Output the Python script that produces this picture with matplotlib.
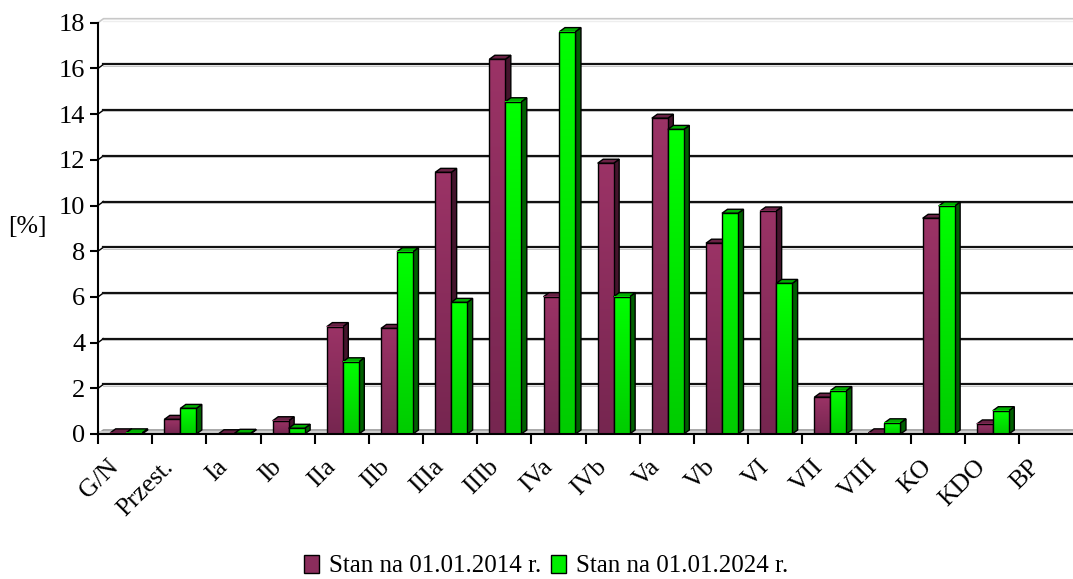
import numpy as np
import matplotlib
matplotlib.use("Agg")
import matplotlib.pyplot as plt
from matplotlib.patches import Polygon, Rectangle, Patch
from matplotlib.colors import LinearSegmentedColormap

plt.rcParams['font.family'] = ['Liberation Serif', 'DejaVu Serif']

categories = ["G/N", "Przest.", "Ia", "Ib", "IIa", "IIb", "IIIa", "IIIb", "IVa",
              "IVb", "Va", "Vb", "VI", "VII", "VIII", "KO", "KDO", "BP"]
stan_2014 = [0.05, 0.64, 0.01, 0.58, 4.70, 4.62, 11.45, 16.40, 6.01,
             11.85, 13.82, 8.35, 9.76, 1.61, 0.05, 9.44, 0.44, 0.0]
stan_2024 = [0.05, 1.12, 0.03, 0.25, 3.16, 7.98, 5.76, 14.54, 17.61,
             6.01, 13.33, 9.66, 6.59, 1.90, 0.49, 9.98, 1.02, 0.0]
labels = ["Stan na 01.01.2014 r.", "Stan na 01.01.2024 r."]
yticks = list(range(0, 19, 2))

# colours: front gradient (bottom, top), top face, side face
styles = [
    dict(front=("#762650", "#9b3366"), top="#6a2245", side="#44142c", legend="#8b2d5c"),
    dict(front=("#00cc00", "#00ff00"), top="#00b000", side="#006000", legend="#00ee00"),
]

fig = plt.figure(figsize=(10.73, 5.79), dpi=100)
ax = fig.add_axes([98 / 1073, 145 / 579, 975 / 1073, (434 - 22.7) / 579])

n = len(categories)
ymax = 18
# 3D depth offsets (data units)
dx = 5.5 / 54.2
dy = 4.0 / 22.85
bw = 0.295
left0 = 0.225

grad = np.linspace(0, 1, 64).reshape(-1, 1)

# back wall grid lines
for t in yticks[1:-1]:
    ax.plot([0, dx], [t, t + dy], color="black", lw=1.0, clip_on=False, zorder=1)
    ax.plot([dx, n + 1], [t + dy, t + dy], color="#111111", lw=1.6, clip_on=False, zorder=1)
    ax.plot([dx, n + 1], [t + dy - 0.06, t + dy - 0.06], color="#bbbbbb", lw=0.6, clip_on=False, zorder=1)
ax.plot([0, dx, n + 1], [ymax, ymax + dy, ymax + dy], color="#c8c8c8", lw=1.2, clip_on=False, zorder=1)
ax.plot([dx, n + 1], [ymax + dy - 0.09, ymax + dy - 0.09], color="#eeeeee", lw=1.0, clip_on=False, zorder=1)
# floor
ax.plot([0, dx, n + 1], [0, dy, dy], color="#9a9a9a", lw=1.2, clip_on=False, zorder=1)
ax.plot([0, n + 1], [0.07, 0.07], color="#d0d0d0", lw=1.5, clip_on=False, zorder=1)

for s, (vals, st) in enumerate(zip([stan_2014, stan_2024], styles)):
    cmap = LinearSegmentedColormap.from_list("g%d" % s, list(st["front"]))
    for i, h in enumerate(vals):
        if h <= 0:
            continue
        x0 = i + left0 + s * bw
        x1 = x0 + bw
        z = 3 + i * 2 + s
        ax.add_patch(Polygon([(x1, 0), (x1 + dx, dy), (x1 + dx, h + dy), (x1, h)],
                             closed=True, facecolor=st["side"], edgecolor="black", lw=1.0, zorder=z))
        ax.add_patch(Polygon([(x0, h), (x0 + dx, h + dy), (x1 + dx, h + dy), (x1, h)],
                             closed=True, facecolor=st["top"], edgecolor="black", lw=1.0, zorder=z))
        ax.imshow(grad, extent=[x0, x1, 0, h], origin="lower", aspect="auto",
                  cmap=cmap, zorder=z, interpolation="bilinear")
        ax.add_patch(Rectangle((x0, 0), bw, h, facecolor="none", edgecolor="black", lw=1.0, zorder=z))

ax.set_xlim(0, n)
ax.set_ylim(0, ymax)

for sp in ["top", "right"]:
    ax.spines[sp].set_visible(False)
ax.spines["left"].set_linewidth(1.5)
ax.spines["bottom"].set_linewidth(1.5)
ax.spines["bottom"].set_zorder(100)

ax.set_yticks(yticks)
ax.set_yticklabels([str(t) for t in yticks], fontsize=19)
ax.tick_params(axis="y", direction="out", length=6, width=1.5, pad=3)

ax.set_xticks(np.arange(0, n))
ax.set_xticklabels([])
ax.tick_params(axis="x", direction="out", length=7, width=1.5)

for i, c in enumerate(categories):
    ax.text(i + 0.5 - 0.32, -0.95, c, rotation=45, rotation_mode="anchor",
            ha="right", va="top", fontsize=18.5, clip_on=False)

fig.text(27 / 1073, 1 - 227 / 579, "[%]", ha="center", va="center", fontsize=18.5)

handles = [Patch(facecolor=st["legend"], edgecolor="black", lw=1.0) for st in styles]
fig.legend(handles, labels, loc="center", bbox_to_anchor=(0.509, 1 - 566 / 579), ncol=2,
           frameon=False, fontsize=18, handlelength=0.6, handleheight=0.75,
           handletextpad=0.4, columnspacing=0.4, borderpad=0.1)

fig.savefig("out.png", dpi=100)
